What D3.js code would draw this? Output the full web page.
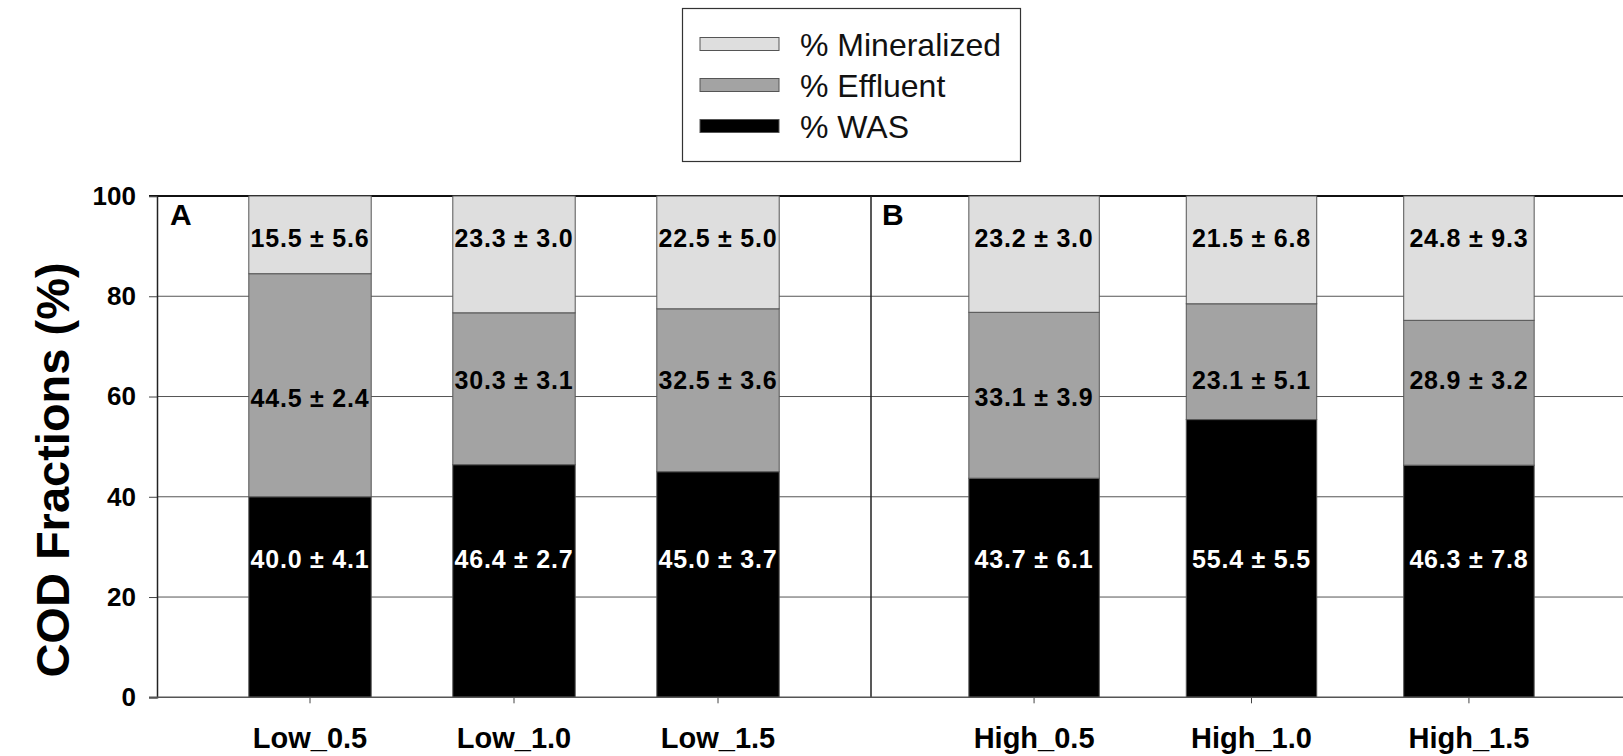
<!DOCTYPE html>
<html>
<head>
<meta charset="utf-8">
<script src="https://cdn.jsdelivr.net/npm/d3@7"></script>
<style>
  body { margin: 0; background: #fff; }
  svg { display: block; font-family: "Liberation Sans", Arial, sans-serif; }
</style>
</head>
<body>
<div id="chart"></div>
<script>
// data
const categoriesA = ['Low_0.5', 'Low_1.0', 'Low_1.5'];
const categoriesB = ['High_0.5', 'High_1.0', 'High_1.5'];
const was = [40.0, 46.4, 45.0, 43.7, 55.4, 46.3];
const wasSd = [4.1, 2.7, 3.7, 6.1, 5.5, 7.8];
const effluent = [44.5, 30.3, 32.5, 33.1, 23.1, 28.9];
const effluentSd = [2.4, 3.1, 3.6, 3.9, 5.1, 3.2];
const mineralized = [15.5, 23.3, 22.5, 23.2, 21.5, 24.8];
const mineralizedSd = [5.6, 3.0, 5.0, 3.0, 6.8, 9.3];
const seriesKeys = ['was', 'effluent', 'mineralized'];
const seriesNames = ['% WAS', '% Effluent', '% Mineralized'];
const yTicks = [0, 20, 40, 60, 80, 100];

const width = 1623, height = 756;
const plotTop = 196, plotBottom = 697.3, axisX = 157, divX = 871;

const svg = d3.select('#chart').append('svg')
  .attr('width', width).attr('height', height);

const y = d3.scaleLinear().domain([0, 100]).range([plotBottom, plotTop]);

const allCats = categoriesA.concat(categoriesB);
const rows = allCats.map((c, i) => ({
  cat: c, panel: i < 3 ? 'A' : 'B',
  was: was[i], effluent: effluent[i], mineralized: mineralized[i],
  sd: [wasSd[i], effluentSd[i], mineralizedSd[i]]
}));

// one band scale per panel (panel B runs past the right edge, as in the original)
const xA = d3.scaleBand().domain(categoriesA).range([axisX, divX]).paddingInner(0.4).paddingOuter(0.45);
const xB = d3.scaleBand().domain(categoriesB).range([divX, divX + 761]).paddingInner(0.4).paddingOuter(0.45);
const xOf = d => (d.panel === 'A' ? xA : xB);

// gridlines
svg.append('g').selectAll('line')
  .data(yTicks.filter(t => t > 0 && t < 100))
  .enter().append('line')
  .attr('x1', axisX).attr('x2', width)
  .attr('y1', d => y(d)).attr('y2', d => y(d))
  .attr('stroke', '#555').attr('stroke-width', 1);

// frame: top line, divider
svg.append('line').attr('x1', axisX - 8).attr('x2', width)
  .attr('y1', y(100)).attr('y2', y(100)).attr('stroke', '#111').attr('stroke-width', 2);
svg.append('line').attr('x1', divX).attr('x2', divX)
  .attr('y1', y(100)).attr('y2', y(0)).attr('stroke', '#222').attr('stroke-width', 1.5);

// stacked bars
const stack = d3.stack().keys(seriesKeys);
const layers = stack(rows);
const fills = ['#000000', '#a3a3a3', '#dedede'];

const layerG = svg.append('g').selectAll('g')
  .data(layers).enter().append('g')
  .attr('fill', (d, i) => fills[i]);

layerG.selectAll('rect')
  .data(d => d)
  .enter().append('rect')
  .attr('x', d => xOf(d.data)(d.data.cat))
  .attr('width', d => xOf(d.data).bandwidth())
  .attr('y', d => y(d[1]))
  .attr('height', d => y(d[0]) - y(d[1]))
  .attr('stroke', '#555').attr('stroke-width', 1);

// y axis
const yAxis = svg.append('g').attr('transform', `translate(${axisX},0)`)
  .call(d3.axisLeft(y).tickValues(yTicks).tickSize(8).tickPadding(13));
yAxis.select('.domain').attr('stroke', '#222').attr('stroke-width', 1.5);
yAxis.selectAll('.tick line').attr('stroke', '#444');
yAxis.selectAll('text').attr('font-size', 26).attr('font-weight', 'bold')
  .attr('font-family', '"Liberation Sans", Arial, sans-serif').attr('fill', '#000');

// x axes
[xA, xB].forEach(sc => {
  const g = svg.append('g').attr('transform', `translate(0,${plotBottom})`)
    .call(d3.axisBottom(sc).tickSize(6).tickPadding(24).tickSizeOuter(0));
  g.select('.domain').remove();
  g.selectAll('.tick line').attr('stroke', '#444');
  g.selectAll('text').attr('font-size', 29).attr('font-weight', 'bold')
    .attr('font-family', '"Liberation Sans", Arial, sans-serif').attr('fill', '#000');
});
svg.append('line').attr('x1', axisX - 8).attr('x2', width)
  .attr('y1', plotBottom).attr('y2', plotBottom).attr('stroke', '#555').attr('stroke-width', 1.5);

// value labels, placed roughly where the original put them
const labelLevel = [27.6, 63.3, 91.6];
const nudge = { 'Low_0.5|1': -3.5, 'High_0.5|1': -3.3 };
layers.forEach((layer, li) => {
  svg.append('g').selectAll('text')
    .data(layer).enter().append('text')
    .attr('x', d => xOf(d.data)(d.data.cat) + xOf(d.data).bandwidth() / 2)
    .attr('y', d => y(labelLevel[li] + (nudge[d.data.cat + '|' + li] || 0)))
    .attr('dy', '0.36em')
    .attr('text-anchor', 'middle')
    .attr('font-size', 25).attr('font-weight', 'bold')
    .attr('letter-spacing', 0.8)
    .attr('fill', li === 0 ? '#fff' : '#000')
    .text(d => `${d.data[seriesKeys[li]].toFixed(1)} ± ${d.data.sd[li].toFixed(1)}`);
});

// panel letters
svg.append('text').attr('x', 170).attr('y', 225).attr('font-size', 30).attr('font-weight', 'bold').text('A');
svg.append('text').attr('x', 882).attr('y', 225).attr('font-size', 30).attr('font-weight', 'bold').text('B');

// y title
svg.append('text')
  .attr('transform', `translate(69,470) rotate(-90)`)
  .attr('text-anchor', 'middle')
  .attr('font-size', 47).attr('font-weight', 'bold')
  .text('COD Fractions (%)');

// legend
const legend = svg.append('g');
legend.append('rect').attr('x', 682.5).attr('y', 8.5).attr('width', 338).attr('height', 153)
  .attr('fill', '#fff').attr('stroke', '#333').attr('stroke-width', 1.2);
const legendOrder = [2, 1, 0];
const items = legend.selectAll('.legend-item')
  .data(legendOrder).enter().append('g')
  .attr('class', 'legend-item')
  .attr('transform', (d, i) => `translate(700, ${44 + i * 41})`);
items.append('rect').attr('x', 0).attr('y', -6.5).attr('width', 79).attr('height', 13)
  .attr('fill', d => fills[d]).attr('stroke', '#555').attr('stroke-width', 1);
items.append('text').attr('x', 100).attr('y', 12)
  .attr('font-size', 32).attr('fill', '#111')
  .text(d => seriesNames[d]);
</script>
</body>
</html>
